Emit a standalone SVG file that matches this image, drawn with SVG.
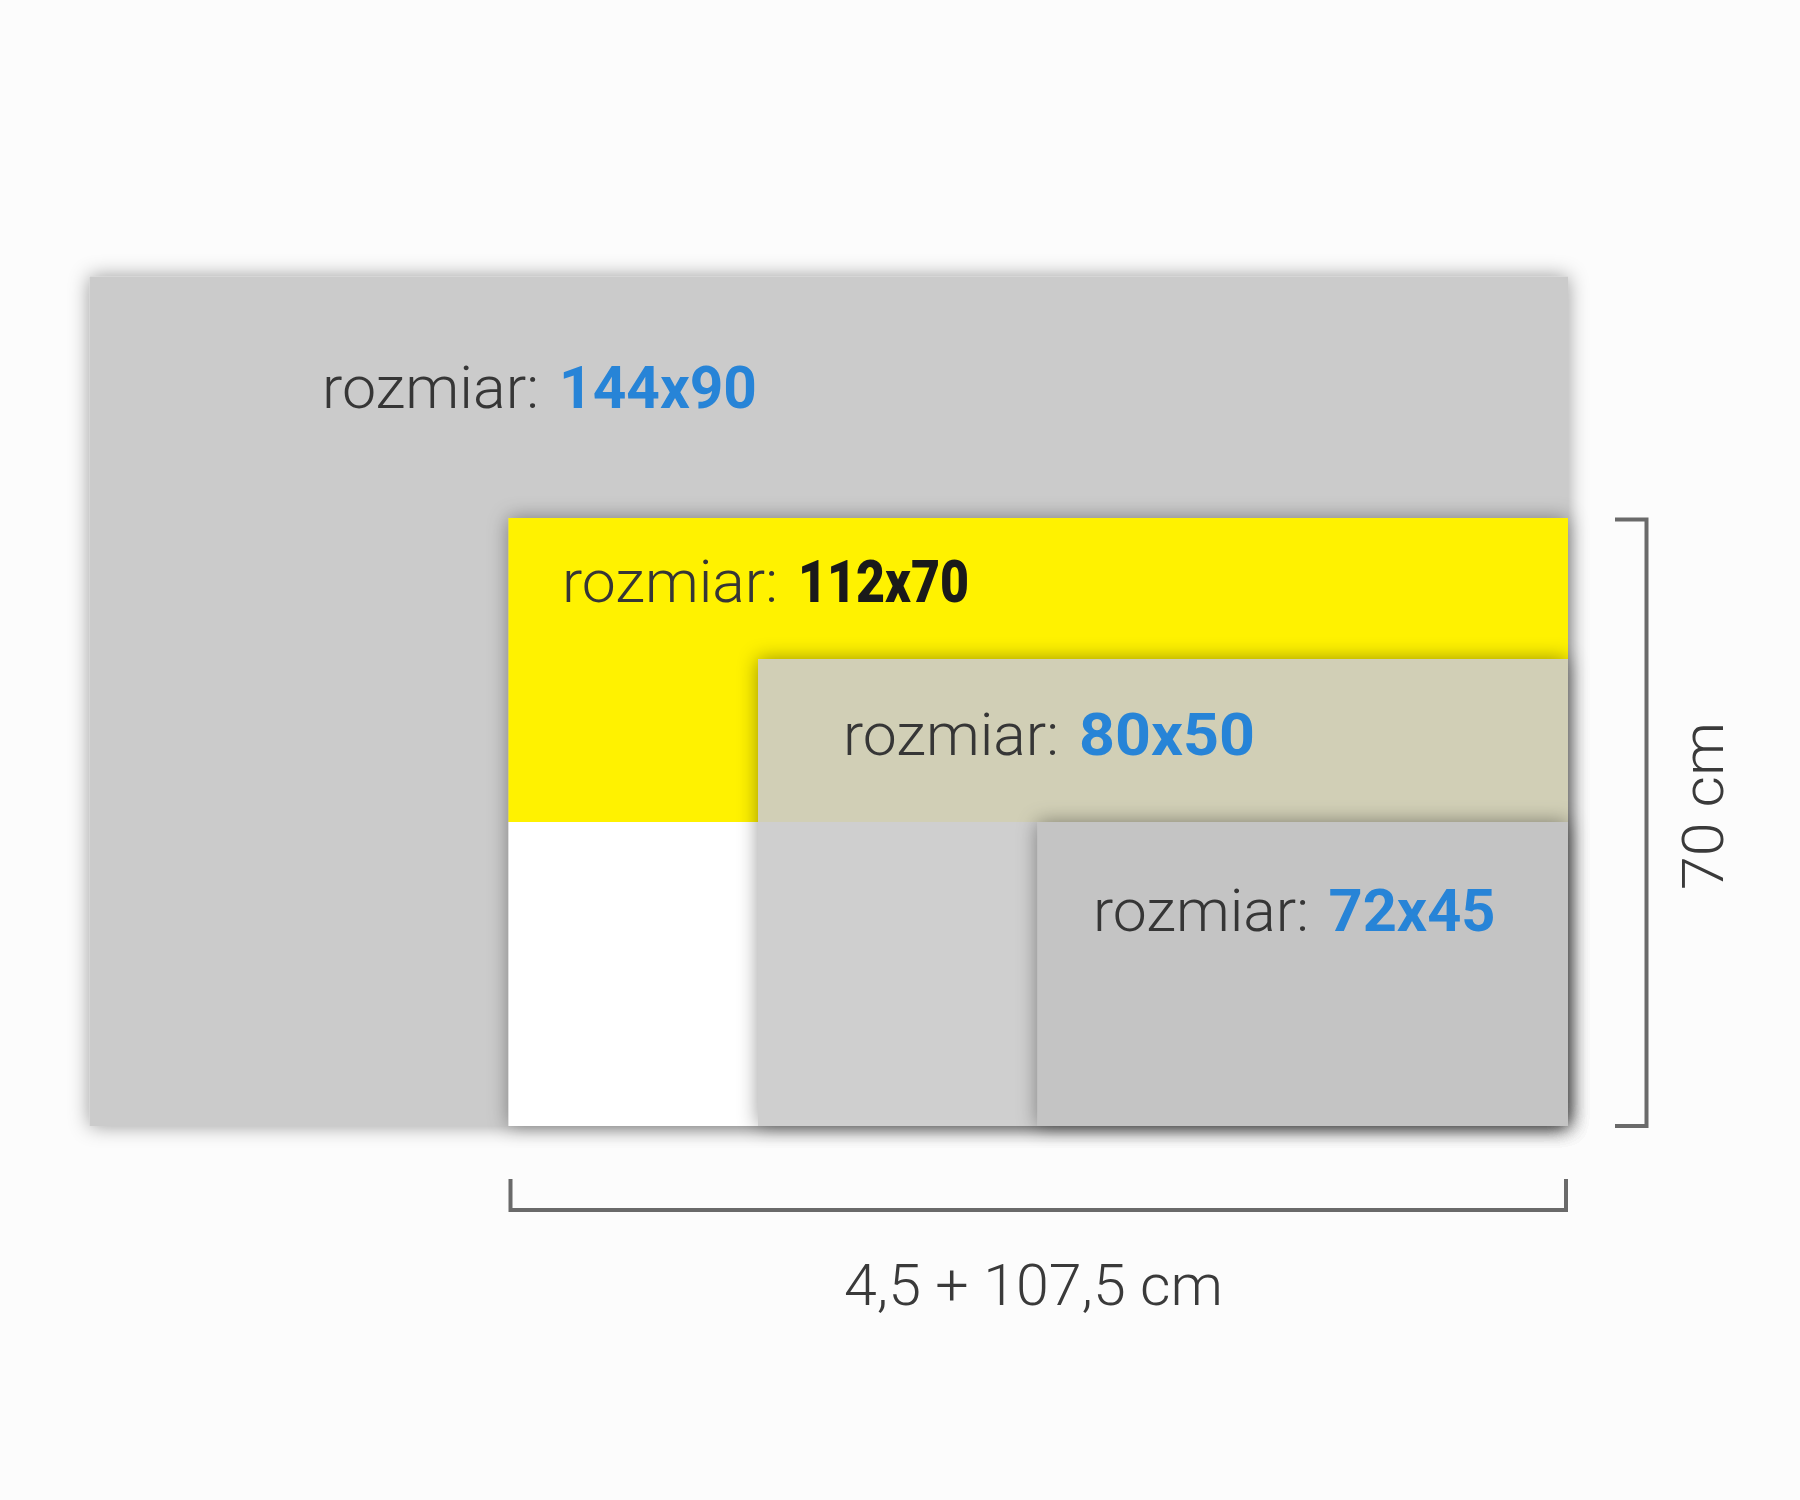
<svg xmlns="http://www.w3.org/2000/svg" width="1800" height="1500" viewBox="0 0 1800 1500">
  <defs>
    <filter id="sh" x="-10%" y="-10%" width="120%" height="120%">
      <feDropShadow dx="0" dy="0" stdDeviation="10" flood-color="#000" flood-opacity="0.4"/>
    </filter>
    <style>
      .lbl { font-family: Roboto, "Liberation Sans", sans-serif; font-weight: 300; font-size: 60px; fill: #363636; }
      .num { font-family: Roboto, "Liberation Sans", Arial, sans-serif; font-weight: 700; font-size: 60px; }
      .blue { fill: #2784d7; }
      .dark { fill: #1a1a1a; font-weight: 900; }
      .dim { font-family: Roboto, "Liberation Sans", sans-serif; font-weight: 300; font-size: 58px; fill: #3a3a3a; }
      .brk { fill: none; stroke: #6a6a6a; stroke-width: 4; }
    </style>
  </defs>
  <rect x="0" y="0" width="1800" height="1500" fill="#fcfcfc"/>

  <g id="size-144x90">
    <rect x="89.5" y="276.5" width="1478.5" height="849.5" fill="#cbcbcb" filter="url(#sh)"/>
    <text class="lbl" x="322" y="408" textLength="217" lengthAdjust="spacingAndGlyphs">rozmiar:</text>
    <text class="num blue" x="559" y="408" textLength="198" lengthAdjust="spacingAndGlyphs">144x90</text>
  </g>

  <g id="size-112x70">
    <g filter="url(#sh)">
      <rect x="508.5" y="518" width="1059.5" height="304" fill="#fff200"/>
      <rect x="508.5" y="822" width="1059.5" height="304" fill="#ffffff"/>
    </g>
    <text class="lbl" x="562" y="602" textLength="216" lengthAdjust="spacingAndGlyphs">rozmiar:</text>
    <text class="num dark" x="798" y="602" textLength="171" lengthAdjust="spacingAndGlyphs">112x70</text>
  </g>

  <g id="size-80x50">
    <g filter="url(#sh)">
      <rect x="758" y="659" width="810" height="163" fill="#d1cfb6"/>
      <rect x="758" y="822" width="810" height="304" fill="#cfcfcf"/>
    </g>
    <text class="lbl" x="843" y="755" textLength="216" lengthAdjust="spacingAndGlyphs">rozmiar:</text>
    <text class="num blue" x="1079" y="755" textLength="176" lengthAdjust="spacingAndGlyphs">80x50</text>
  </g>

  <g id="size-72x45">
    <rect x="1037.5" y="822" width="530.5" height="304" fill="#c4c4c4" filter="url(#sh)"/>
    <text class="lbl" x="1093" y="931" textLength="216" lengthAdjust="spacingAndGlyphs">rozmiar:</text>
    <text class="num blue" x="1328.5" y="931" textLength="167" lengthAdjust="spacingAndGlyphs">72x45</text>
  </g>

  <g id="connectors">
    <path class="brk" d="M1615,519.5 H1646.5 V1126 H1615"/>
    <path class="brk" d="M510.5,1179 V1210 H1566 V1179"/>
  </g>

  <g id="dimension-labels">
    <text class="dim" x="1033.5" y="1305" text-anchor="middle" textLength="379" lengthAdjust="spacingAndGlyphs">4,5 + 107,5 cm</text>
    <text class="dim" transform="translate(1723,806) rotate(-90)" x="0" y="0" text-anchor="middle" textLength="168" lengthAdjust="spacingAndGlyphs">70 cm</text>
  </g>
</svg>
